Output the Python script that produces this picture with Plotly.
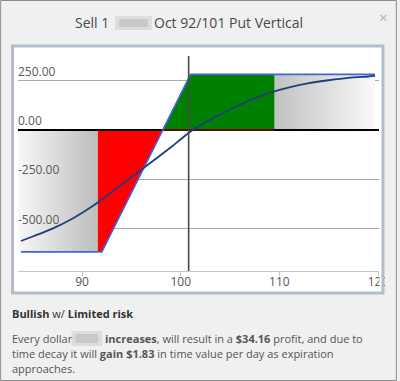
import numpy as np
import plotly.graph_objects as go

# ---------------- data ----------------
title_left = "Sell 1"
title_right = "Oct 92/101 Put Vertical"

x_ticks = [90, 100, 110, 120]
y_ticks = [250, 0, -250, -500]
y_tick_labels = ["250.00", "0.00", "-250.00", "-500.00"]

# expiration payoff vertices (price, P/L)
payoff_x = [83.8, 92, 101, 119.7]
payoff_y = [-618, -618, 282, 282]

# theoretical (today) P/L curve
curve_x = [83.8, 85, 87, 89, 91, 93, 95, 97, 99, 100, 101, 102, 103, 105, 107,
           109, 111, 113, 115, 117, 119, 119.7]
curve_y = [-563, -540, -500, -450, -388, -315, -240, -164, -88, -47, -8, 25,
           52, 104, 150, 188, 216, 237, 252, 264, 271, 274]

range_low = 91.6      # start of coloured (expected move) zone
range_high = 109.5    # end of coloured zone
breakeven = 98.18
spot = 100.8
x_axis_range = [83.5, 120.1]
y_axis_range = [-715, 375]

# ---------------- figure ----------------
W, H = 400, 381
ML, MR, MT, MB = 18, 18, 56, 110
PW, PH = W - ML - MR, H - MT - MB


def px(xp):
    return (xp - ML) / PW


def py(yp):
    return (H - MB - yp) / PH


def pay(x):
    return float(np.interp(x, payoff_x, payoff_y))


fig = go.Figure()

# left grey gradient zone
lx = [x_axis_range[0], range_low, range_low, x_axis_range[0]]
ly = [0, 0, pay(range_low), pay(payoff_x[0])]
fig.add_trace(go.Scatter(
    x=lx, y=ly, mode="lines", line=dict(width=0), fill="toself",
    fillgradient=dict(type="horizontal",
                      colorscale=[[0, "#f8f8f8"], [1, "#bcbcbc"]],
                      start=x_axis_range[0], stop=range_low),
    hoverinfo="skip", showlegend=False))

# right grey gradient zone
rx = [range_high, payoff_x[-1], payoff_x[-1], range_high]
ry = [0, 0, pay(payoff_x[-1]), pay(range_high)]
fig.add_trace(go.Scatter(
    x=rx, y=ry, mode="lines", line=dict(width=0), fill="toself",
    fillgradient=dict(type="horizontal",
                      colorscale=[[0, "#c2c2c2"], [1, "#fbfbfb"]],
                      start=range_high, stop=payoff_x[-1]),
    hoverinfo="skip", showlegend=False))

# red loss zone
red_x = [range_low] + [v for v in payoff_x if range_low < v < breakeven] + [breakeven]
red_y = [pay(v) for v in red_x]
fig.add_trace(go.Scatter(
    x=red_x + [range_low], y=red_y + [0], mode="lines", line=dict(width=0),
    fill="toself", fillcolor="#ff0000", hoverinfo="skip", showlegend=False))

# green profit zone
gr_x = [breakeven] + [v for v in payoff_x if breakeven < v < range_high] + [range_high]
gr_y = [pay(v) for v in gr_x]
fig.add_trace(go.Scatter(
    x=gr_x + [range_high], y=gr_y + [0], mode="lines", line=dict(width=0),
    fill="toself", fillcolor="#008000", hoverinfo="skip", showlegend=False))

# zero line
fig.add_trace(go.Scatter(
    x=x_axis_range, y=[0, 0], mode="lines", line=dict(color="#000000", width=2),
    hoverinfo="skip", showlegend=False))
fig.add_trace(go.Scatter(
    x=[breakeven, range_high], y=[0, 0], mode="lines",
    line=dict(color="#5a0a0a", width=2), hoverinfo="skip", showlegend=False))

# expiration payoff line
fig.add_trace(go.Scatter(
    x=payoff_x, y=payoff_y, mode="lines", line=dict(color="#3f66dc", width=1.6),
    hoverinfo="skip", showlegend=False))

# theoretical curve
fig.add_trace(go.Scatter(
    x=curve_x, y=curve_y, mode="lines",
    line=dict(color="#1f3f78", width=1.8, shape="spline", smoothing=0.8),
    hoverinfo="skip", showlegend=False))

shapes = []
# white panel (below)
shapes.append(dict(type="rect", xref="paper", yref="paper", layer="below",
                   x0=px(12.5), x1=px(386), y0=py(293), y1=py(46),
                   fillcolor="#ffffff", line=dict(width=0)))
# current price line
shapes.append(dict(type="line", xref="x", yref="paper", x0=spot, x1=spot, y0=0, y1=1,
                   line=dict(color="#4a4a4a", width=1.6), layer="above"))
# clip of the right edge (covers part of "120")
shapes.append(dict(type="rect", xref="paper", yref="paper", layer="above",
                   x0=px(382.5), x1=px(385), y0=py(290), y1=py(272),
                   fillcolor="#ffffff", line=dict(width=0)))
shapes.append(dict(type="rect", xref="paper", yref="paper", layer="above",
                   x0=px(388), x1=px(399), y0=py(292), y1=py(272),
                   fillcolor="#f0f0f0", line=dict(width=0)))
# panel border (above)
shapes.append(dict(type="rect", xref="paper", yref="paper", layer="above",
                   x0=px(12.5), x1=px(386), y0=py(293), y1=py(46),
                   fillcolor="rgba(0,0,0,0)", line=dict(color="#b3bccb", width=3)))
# dialog outer border
shapes.append(dict(type="rect", xref="paper", yref="paper", layer="above",
                   x0=px(0.5), x1=px(399.5), y0=py(380.5), y1=py(0.5),
                   fillcolor="rgba(0,0,0,0)", line=dict(color="#8c8c8c", width=1)))
# blurred (hidden) ticker in title and text
for (x0, x1, y0, y1) in [(116, 153, 16, 30), (72, 103, 331, 346)]:
    shapes.append(dict(type="rect", xref="paper", yref="paper", layer="above",
                       x0=px(x0), x1=px(x1), y0=py(y1), y1=py(y0),
                       fillcolor="#d4d4d4", opacity=0.7, line=dict(width=0)))
    shapes.append(dict(type="rect", xref="paper", yref="paper", layer="above",
                       x0=px(x0 + 4), x1=px(x1 - 4), y0=py(y1 - 3), y1=py(y0 + 3),
                       fillcolor="#c4c4c4", opacity=0.8, line=dict(width=0)))

annotations = []
FONT = "Open Sans"
# y tick labels inside the plot, above the grid lines
for v, t in zip(y_ticks, y_tick_labels):
    annotations.append(dict(x=0, xref="paper", y=v, yref="y", text=t, showarrow=False,
                            xanchor="left", yanchor="bottom", yshift=-1, xshift=-2,
                            font=dict(family=FONT, size=12, color="#5a5a5a")))
# title
annotations.append(dict(x=px(93), xref="paper", y=py(23), yref="paper", text=title_left,
                        showarrow=False, xanchor="center", yanchor="middle",
                        font=dict(family=FONT, size=14, color="#4a4a4a")))
annotations.append(dict(x=px(153), xref="paper", y=py(23), yref="paper", text=title_right,
                        showarrow=False, xanchor="left", yanchor="middle",
                        font=dict(family=FONT, size=14, color="#4a4a4a")))
annotations.append(dict(x=px(387), xref="paper", y=py(17), yref="paper", text="×",
                        showarrow=False, xanchor="center", yanchor="middle",
                        font=dict(family=FONT, size=15, color="#b0b0b0")))
# description text
txt_font = dict(family=FONT, size=11, color="#555555")
annotations.append(dict(x=px(10), xref="paper", y=py(313), yref="paper",
                        text="<b>Bullish</b> w/ <b>Limited risk</b>", showarrow=False,
                        xanchor="left", yanchor="middle", font=dict(family=FONT, size=11, color="#333333")))
annotations.append(dict(x=px(10), xref="paper", y=py(338), yref="paper",
                        text="Every dollar", showarrow=False,
                        xanchor="left", yanchor="middle", font=txt_font))
annotations.append(dict(x=px(104), xref="paper", y=py(338), yref="paper",
                        text="<b>increases</b>, will result in a <b>$34.16</b> profit, and due to",
                        showarrow=False, xanchor="left", yanchor="middle", font=txt_font))
annotations.append(dict(x=px(10), xref="paper", y=py(353), yref="paper",
                        text="time decay it will <b>gain $1.83</b> in time value per day as expiration",
                        showarrow=False, xanchor="left", yanchor="middle", font=txt_font))
annotations.append(dict(x=px(10), xref="paper", y=py(368), yref="paper",
                        text="approaches.", showarrow=False,
                        xanchor="left", yanchor="middle", font=txt_font))

fig.update_layout(
    width=W, height=H, autosize=False,
    margin=dict(l=ML, r=MR, t=MT, b=MB, pad=0),
    paper_bgcolor="#f0f0f0", plot_bgcolor="#ffffff",
    shapes=shapes, annotations=annotations,
    font=dict(family=FONT),
    hovermode=False,
    xaxis=dict(range=x_axis_range, tickvals=x_ticks, showgrid=False, zeroline=False,
               showline=True, linecolor="#b9c9dc", linewidth=1,
               ticks="outside", ticklen=4, tickcolor="#b9c9dc", ticklabelstandoff=-4,
               tickfont=dict(family=FONT, size=12, color="#555555"), fixedrange=True),
    yaxis=dict(range=y_axis_range, tickvals=y_ticks, showticklabels=False,
               showgrid=True, gridcolor="#ababab", gridwidth=1, zeroline=False,
               showline=False, ticks="", fixedrange=True),
)

fig.write_html(
    "out.html",
    config={"displayModeBar": False},
    post_script="document.body.style.margin='0';document.body.style.overflow='hidden';",
)
